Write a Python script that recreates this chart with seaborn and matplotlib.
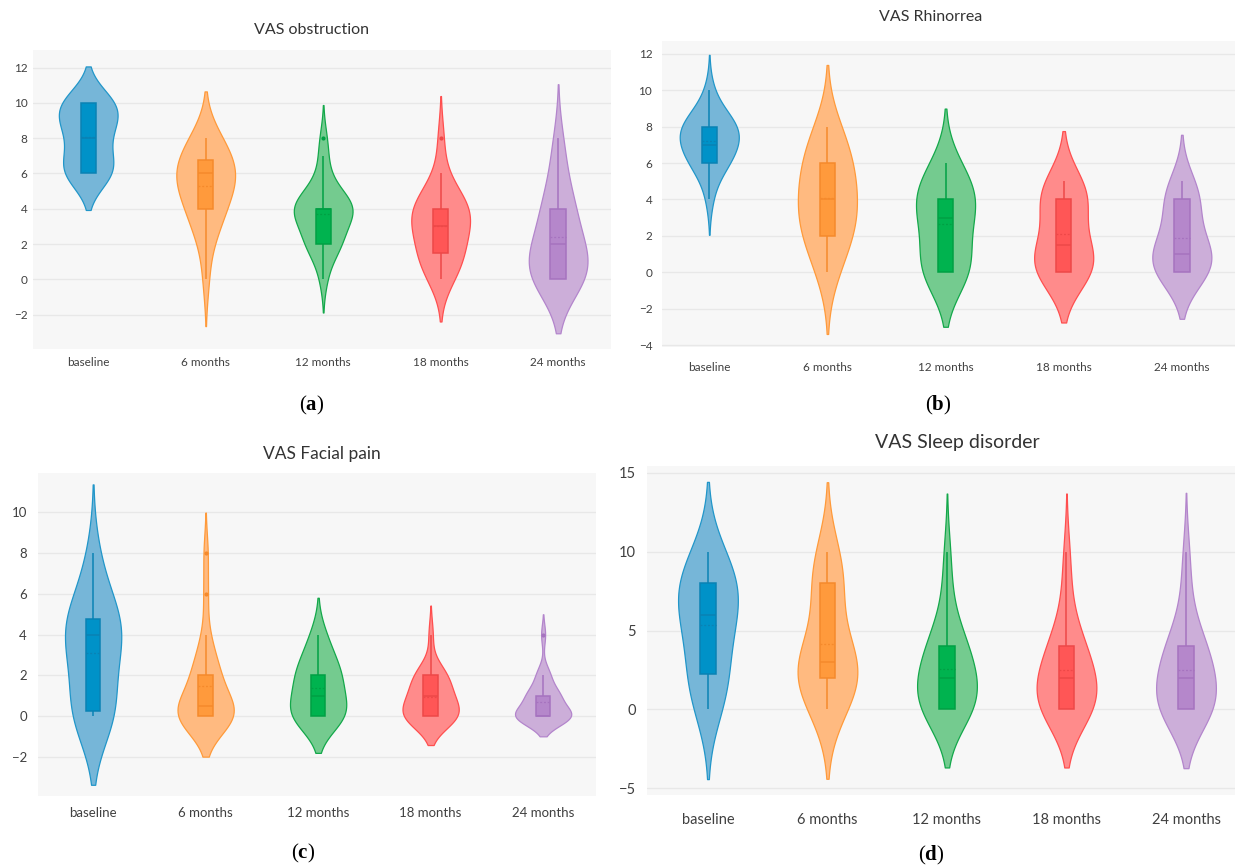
import numpy as np
import pandas as pd
import matplotlib
matplotlib.use('Agg')
import matplotlib.pyplot as plt
import seaborn as sns

visits = ['baseline', '6 months', '12 months', '18 months', '24 months']

# VAS obstruction (a)
obs_baseline = [6, 6, 6, 6, 6, 6, 6, 7, 7, 7, 8, 8, 8, 9, 9, 9, 9, 9, 10, 10, 10, 10, 10, 10, 10]
obs_6m = [0, 2, 3, 3, 4, 4, 4, 5, 5, 5, 6, 6, 6, 6, 6, 6, 7, 7, 7, 8, 8, 8]
obs_12m = [0, 1, 2, 2, 2, 2, 2, 3, 3, 3, 4, 4, 4, 4, 4, 4, 4, 4, 4, 5, 5, 5, 6, 7, 8]
obs_18m = [0, 0, 1, 1, 1, 1, 2, 2, 2, 3, 3, 3, 3, 4, 4, 4, 4, 4, 4, 5, 5, 6, 8]
obs_24m = [0, 0, 0, 0, 0, 0, 0, 1, 1, 1, 1, 2, 2, 2, 2, 3, 4, 4, 4, 4, 5, 6, 7, 8]

# VAS Rhinorrea (b)
rhi_baseline = [4, 5, 6, 6, 6, 6, 6, 7, 7, 7, 7, 7, 7, 8, 8, 8, 8, 8, 8, 8, 8, 9, 9, 10]
rhi_6m = [0, 0, 1, 2, 2, 2, 2, 3, 3, 3, 4, 4, 4, 4, 5, 5, 6, 6, 6, 6, 7, 7, 8, 8]
rhi_12m = [0, 0, 0, 0, 0, 0, 0, 1, 1, 2, 2, 3, 3, 3, 4, 4, 4, 4, 4, 4, 5, 5, 5, 6, 6]
rhi_18m = [0, 0, 0, 0, 0, 0, 0, 1, 1, 1, 1, 1, 2, 2, 3, 4, 4, 4, 4, 4, 4, 5, 5, 5]
rhi_24m = [0, 0, 0, 0, 0, 0, 0, 1, 1, 1, 1, 1, 1, 2, 2, 2, 3, 4, 4, 4, 4, 4, 5, 5]

# VAS Facial pain (c)
fac_baseline = [0, 0, 0, 0, 0, 0, 1, 2, 2, 3, 4, 4, 4, 4, 4, 4, 5, 5, 5, 6, 7, 8]
fac_6m = [0, 0, 0, 0, 0, 0, 0, 0, 0, 0, 0, 0, 1, 1, 1, 2, 2, 2, 2, 3, 3, 4, 6, 8]
fac_12m = [0, 0, 0, 0, 0, 0, 0, 0, 0, 1, 1, 1, 1, 2, 2, 2, 2, 2, 2, 3, 3, 3, 4, 4]
fac_18m = [0, 0, 0, 0, 0, 0, 0, 0, 0, 0, 0, 1, 1, 1, 1, 1, 1, 2, 2, 2, 2, 2, 2, 4]
fac_24m = [0, 0, 0, 0, 0, 0, 0, 0, 0, 0, 0, 0, 0, 1, 1, 1, 1, 1, 1, 1, 2, 2, 2, 4]

# VAS Sleep disorder (d)
slp_baseline = [0, 0, 1, 2, 2, 2, 3, 4, 5, 5, 6, 6, 7, 7, 7, 8, 8, 8, 8, 9, 10, 10]
slp_6m = [0, 0, 0, 1, 2, 2, 2, 2, 2, 2, 3, 3, 3, 3, 3, 4, 5, 6, 8, 8, 8, 8, 9, 10, 10]
slp_12m = [0, 0, 0, 0, 0, 0, 0, 1, 1, 1, 2, 2, 2, 2, 3, 3, 4, 4, 4, 4, 5, 6, 8, 10]
slp_18m = [0, 0, 0, 0, 0, 0, 0, 1, 1, 1, 1, 2, 2, 2, 3, 3, 3, 4, 4, 4, 5, 6, 8, 10]
slp_24m = [0, 0, 0, 0, 0, 0, 0, 0, 1, 1, 1, 2, 2, 3, 3, 3, 3, 4, 4, 4, 5, 6, 8, 10]

fill_colors = ['#76b6d8', '#ffba80', '#74cb8f', '#ff8b8b', '#ccaed9']
edge_colors = ['#2196c9', '#ff9a3a', '#13a84a', '#ff4f4f', '#b385cc']
box_colors = ['#0092c8', '#ff9a3c', '#00b34f', '#ff5656', '#b587cb']
line_colors = ['#0a82b4', '#f58a2c', '#00a044', '#ee4848', '#a673bf']

sns.set_style('white')
plt.rcParams['font.family'] = ['Lato', 'DejaVu Sans']
plt.rcParams['mathtext.fontset'] = 'custom'
plt.rcParams['mathtext.rm'] = 'Liberation Serif'
plt.rcParams['mathtext.bf'] = 'Liberation Serif:bold'

W, H = 1235, 866


def silverman_iqr(kde):
    # rule of thumb bandwidth using min(std, IQR/1.349)
    x = np.asarray(kde.dataset).ravel()
    sd = x.std(ddof=1)
    q1, q3 = np.percentile(x, [25, 75])
    spread = min(sd, (q3 - q1) / 1.349) if q3 > q1 else sd
    return 1.059 * spread * len(x) ** (-0.2) / sd


def to_frame(groups):
    return pd.DataFrame({
        'visit': np.repeat(visits, [len(g) for g in groups]),
        'score': np.concatenate(groups).astype(float),
    })


panels = [
    dict(title='VAS obstruction', tag='a', groups=[obs_baseline, obs_6m, obs_12m, obs_18m, obs_24m],
         box=(33, 50, 611, 349), xlim=(-0.47, 4.45), ylim=(-3.95, 13.0), yticks=range(-2, 13, 2),
         tfs=11.5, fs=8.5, xpad=6, ypad=4, tpos=(312, 30), lpos=(312, 405), bw=1.14),
    dict(title='VAS Rhinorrea', tag='b', groups=[rhi_baseline, rhi_6m, rhi_12m, rhi_18m, rhi_24m],
         box=(662, 41, 1235, 347), xlim=(-0.40, 4.45), ylim=(-4.1, 12.7), yticks=range(-4, 13, 2),
         tfs=11.5, fs=8.5, xpad=11, ypad=7, tpos=(931, 17), lpos=(938, 405), bw=1.28),
    dict(title='VAS Facial pain', tag='c', groups=[fac_baseline, fac_6m, fac_12m, fac_18m, fac_24m],
         box=(38, 473, 596, 796), xlim=(-0.49, 4.47), ylim=(-3.93, 11.94), yticks=range(-2, 11, 2),
         tfs=12.5, fs=9.5, xpad=8, ypad=8, tpos=(322, 454), lpos=(303, 853), bw=1.2),
    dict(title='VAS Sleep disorder', tag='d', groups=[slp_baseline, slp_6m, slp_12m, slp_18m, slp_24m],
         box=(647, 466, 1235, 795), xlim=(-0.51, 4.41), ylim=(-5.42, 15.42), yticks=range(-5, 16, 5),
         tfs=14, fs=10.5, xpad=13, ypad=8, tpos=(957, 443), lpos=(931, 855), bw=1.22),
]

fig = plt.figure(figsize=(W / 100, H / 100), dpi=100)

for p in panels:
    x0, y0, x1, y1 = p['box']
    ax = fig.add_axes([x0 / W, 1 - y1 / H, (x1 - x0) / W, (y1 - y0) / H])
    df = to_frame(p['groups'])
    for i, v in enumerate(visits):
        sub = df[df['visit'] == v]
        sns.violinplot(data=sub, x='visit', y='score', order=visits, color=fill_colors[i],
                       linecolor=edge_colors[i], linewidth=0.9, width=0.5, density_norm='width',
                       cut=2, bw_method=silverman_iqr, bw_adjust=p['bw'], inner=None,
                       saturation=1, ax=ax)
        sns.boxplot(data=sub, x='visit', y='score', order=visits, color=box_colors[i],
                    linecolor=line_colors[i], linewidth=1.1, width=0.13, saturation=1,
                    showcaps=False, showmeans=True, meanline=True,
                    meanprops=dict(color=line_colors[i], linestyle=(0, (1.5, 1.5)), linewidth=0.9),
                    flierprops=dict(marker='o', markersize=2, markerfacecolor=line_colors[i],
                                    markeredgecolor=line_colors[i]),
                    ax=ax)
    ax.set_facecolor('#f7f7f7')
    ax.set_axisbelow(True)
    ax.yaxis.grid(True, color='#e8e8e8', linewidth=1)
    ax.xaxis.grid(False)
    for s in ax.spines.values():
        s.set_visible(False)
    ax.set_xlim(*p['xlim'])
    ax.set_ylim(*p['ylim'])
    ax.set_yticks(list(p['yticks']))
    ax.set_xticks(range(len(visits)))
    ax.set_xticklabels(visits)
    ax.set_xlabel('')
    ax.set_ylabel('')
    ax.tick_params(axis='both', length=0, labelsize=p['fs'], labelcolor='#404040')
    ax.tick_params(axis='x', pad=p['xpad'])
    ax.tick_params(axis='y', pad=p['ypad'])
    fig.text(p['tpos'][0] / W, 1 - p['tpos'][1] / H, p['title'], ha='center', va='center',
             fontsize=p['tfs'], color='#333333')
    fig.text(p['lpos'][0] / W, 1 - p['lpos'][1] / H, r'($\mathbf{' + p['tag'] + '}$)',
             ha='center', va='center', fontsize=15, color='black', family='Liberation Serif')

fig.savefig('out.png', dpi=100, facecolor='white')
